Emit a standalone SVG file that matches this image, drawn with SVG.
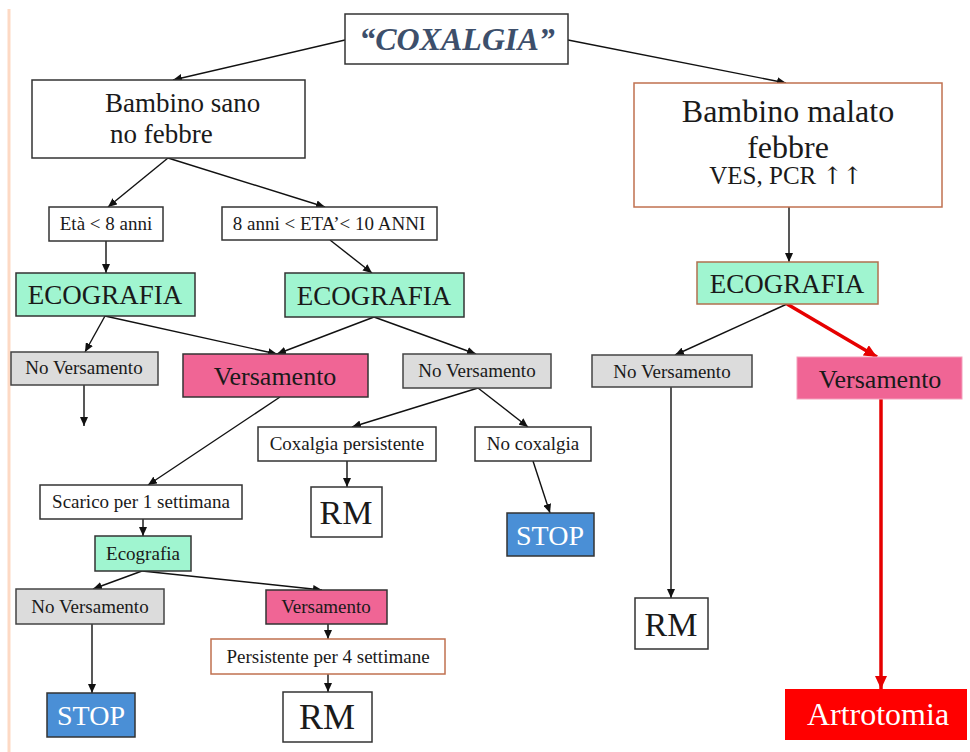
<svg xmlns="http://www.w3.org/2000/svg" width="970" height="752" viewBox="0 0 970 752">
<defs>
<linearGradient id="topline" x1="0" y1="0" x2="1" y2="0">
<stop offset="0" stop-color="#fdd6c2"/>
<stop offset="0.5" stop-color="#f9a57a"/>
<stop offset="1" stop-color="#f15a22"/>
</linearGradient>
<marker id="ah" markerUnits="userSpaceOnUse" markerWidth="9" markerHeight="8" refX="9" refY="4" orient="auto" viewBox="0 0 9 8">
<path d="M0,0 L9,4 L0,8 z" fill="#111"/>
</marker>
<marker id="ahr" markerUnits="userSpaceOnUse" markerWidth="13" markerHeight="12" refX="13" refY="6" orient="auto" viewBox="0 0 13 12">
<path d="M0,0 L13,6 L0,12 z" fill="#e60000"/>
</marker>
</defs>
<style>
text{font-family:"Liberation Serif","Times New Roman",serif;fill:#1a1a1a;text-anchor:middle}
.box{fill:#fff;stroke:#333;stroke-width:1.5}
.obox{fill:#fff;stroke:#c0704f;stroke-width:1.5}
.green{fill:#a0f5d0;stroke:#333;stroke-width:1.5}
.gray{fill:#dcdcdc;stroke:#444;stroke-width:1.5}
.pink{fill:#f06595;stroke:#333;stroke-width:1.5}
.blue{fill:#4a8fd6;stroke:#333;stroke-width:1.5}
.s{font-size:19px}
.m{font-size:27px}
.l{font-size:34px}
.w{fill:#fff}
.arr{font-family:"DejaVu Serif","DejaVu Sans",serif;font-size:24px;fill:#1a1a1a}
.c line{stroke:#111;stroke-width:1.4;marker-end:url(#ah)}
.c line.red{stroke:#e60000;stroke-width:3.5;marker-end:url(#ahr)}
</style>
<rect width="970" height="752" fill="#fff"/>
<line x1="8" y1="9" x2="970" y2="9" stroke="url(#topline)" stroke-width="3"/>
<line x1="9" y1="9" x2="9" y2="752" stroke="#fdd9c4" stroke-width="3"/>

<g id="connectors" class="c">
<line x1="345" y1="40" x2="173" y2="80"/>
<line x1="568" y1="40" x2="786" y2="83"/>
<line x1="168" y1="158" x2="108" y2="207"/>
<line x1="168" y1="158" x2="325" y2="207"/>
<line x1="106" y1="241" x2="106" y2="273"/>
<line x1="330" y1="240" x2="372" y2="273"/>
<line x1="105" y1="316" x2="85" y2="352"/>
<line x1="105" y1="316" x2="277" y2="354"/>
<line x1="374" y1="317" x2="277" y2="354"/>
<line x1="374" y1="317" x2="476" y2="354"/>
<line x1="84" y1="385" x2="84" y2="426"/>
<line x1="280" y1="397" x2="148" y2="485"/>
<line x1="478" y1="388" x2="352" y2="427"/>
<line x1="478" y1="388" x2="528" y2="427"/>
<line x1="347" y1="461" x2="347" y2="487"/>
<line x1="533" y1="461" x2="550" y2="513"/>
<line x1="143" y1="519" x2="143" y2="536"/>
<line x1="142" y1="571" x2="93" y2="589"/>
<line x1="142" y1="571" x2="322" y2="590"/>
<line x1="92" y1="624" x2="92" y2="693"/>
<line x1="328" y1="624" x2="328" y2="639"/>
<line x1="328" y1="674" x2="328" y2="692"/>
<line x1="789" y1="207" x2="789" y2="262"/>
<line x1="787" y1="304" x2="675" y2="355"/>
<line x1="671" y1="387" x2="671" y2="598"/>
<line class="red" x1="787" y1="304" x2="877" y2="357"/>
<line class="red" x1="881" y1="399" x2="881" y2="689"/>
</g>

<g id="coxalgia"><rect class="box" x="345" y="14" width="223" height="50"/><text x="457" y="50" style="font-size:32px;font-style:italic;font-weight:bold;fill:#3d4f6b">“COXALGIA”</text></g>
<g id="sano"><rect class="box" x="32" y="80" width="273" height="78"/><text x="105" y="112" style="font-size:27px;text-anchor:start">Bambino sano</text><text x="110" y="143" style="font-size:27px;text-anchor:start">no febbre</text></g>
<g id="malato"><rect class="obox" x="634" y="83" width="308" height="124"/><text x="788" y="122" style="font-size:32px">Bambino malato</text><text x="788" y="158" style="font-size:32px">febbre</text><text x="786" y="184" style="font-size:25px">VES, PCR <tspan class="arr">↑↑</tspan></text></g>
<g id="eta8"><rect class="box" x="49" y="207" width="114" height="34"/><text class="s" x="106" y="230">Età &lt; 8 anni</text></g>
<g id="eta10"><rect class="box" x="222" y="207" width="215" height="33"/><text class="s" x="329" y="230">8 anni &lt; ETA’&lt; 10 ANNI</text></g>
<g id="eco1"><rect class="green" x="16" y="273" width="179" height="43"/><text class="m" x="105" y="304">ECOGRAFIA</text></g>
<g id="eco2"><rect class="green" x="285" y="273" width="179" height="44"/><text class="m" x="374" y="305">ECOGRAFIA</text></g>
<g id="nov1"><rect class="gray" x="11" y="352" width="147" height="33"/><text class="s" x="84" y="374">No Versamento</text></g>
<g id="vers1"><rect class="pink" x="183" y="354" width="185" height="43"/><text x="275" y="385" style="font-size:26px">Versamento</text></g>
<g id="nov2"><rect class="gray" x="403" y="354" width="148" height="34"/><text class="s" x="477" y="377">No Versamento</text></g>
<g id="coxpers"><rect class="box" x="258" y="427" width="178" height="34"/><text class="s" x="347" y="450">Coxalgia persistente</text></g>
<g id="nocox"><rect class="box" x="475" y="427" width="116" height="34"/><text class="s" x="533" y="450">No coxalgia</text></g>
<g id="rm1"><rect class="box" x="311" y="487" width="71" height="50"/><text class="l" x="346" y="524">RM</text></g>
<g id="stop1"><rect class="blue" x="507" y="513" width="87" height="43"/><text class="w" x="550" y="545" style="font-size:28px">STOP</text></g>
<g id="scarico"><rect class="box" x="40" y="485" width="202" height="34"/><text class="s" x="141" y="508">Scarico per 1 settimana</text></g>
<g id="eco4"><rect class="green" x="95" y="536" width="96" height="35"/><text x="143" y="560" style="font-size:19px">Ecografia</text></g>
<g id="nov3"><rect class="gray" x="16" y="589" width="148" height="35"/><text class="s" x="90" y="613">No Versamento</text></g>
<g id="vers2"><rect class="pink" x="266" y="590" width="121" height="34"/><text class="s" x="326" y="613">Versamento</text></g>
<g id="stop2"><rect class="blue" x="47" y="693" width="88" height="44"/><text class="w" x="91" y="725" style="font-size:28px">STOP</text></g>
<g id="persist"><rect class="obox" x="211" y="639" width="234" height="35"/><text class="s" x="328" y="663">Persistente per 4 settimane</text></g>
<g id="rm2"><rect class="box" x="283" y="692" width="89" height="50"/><text x="327" y="729" style="font-size:36px">RM</text></g>
<g id="eco3"><rect x="697" y="262" width="181" height="42" style="fill:#a0f5d0;stroke:#b0704f;stroke-width:1.5"/><text class="m" x="787" y="293">ECOGRAFIA</text></g>
<g id="nov4"><rect class="gray" x="592" y="355" width="160" height="32"/><text class="s" x="672" y="378">No Versamento</text></g>
<g id="vers3"><rect x="797" y="357" width="165" height="42" style="fill:#f06595;stroke:#f4a0bc;stroke-width:1"/><text x="880" y="388" style="font-size:26px">Versamento</text></g>
<g id="rm3"><rect class="box" x="635" y="598" width="73" height="51"/><text class="l" x="671" y="636">RM</text></g>
<g id="artrotomia"><rect x="785" y="689" width="182" height="51" fill="#ff0000"/><text class="w" x="878" y="725" style="font-size:32px">Artrotomia</text></g>
</svg>
